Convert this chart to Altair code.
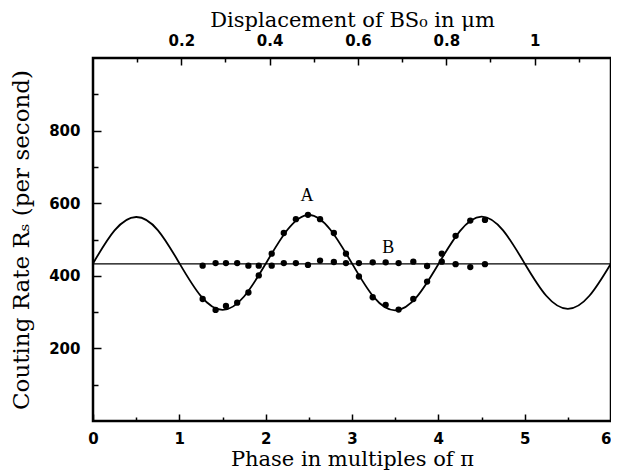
import altair as alt
import pandas as pd

# fitted curve (read at quarter-phase steps)
curve_x = [0, 0.25, 0.5, 0.75, 1, 1.25, 1.5, 1.75, 2, 2.25, 2.5, 2.75, 3,
           3.25, 3.5, 3.75, 4, 4.25, 4.5, 4.75, 5, 5.25, 5.5, 5.75, 6]
curve_y = [434, 525, 562, 526, 435, 344, 306, 343, 433, 526, 568, 527, 434,
           342, 305, 342, 432, 523, 563, 525, 434, 345, 309, 345, 434]

# measured points
pts_x = [1.27, 1.42, 1.54, 1.67, 1.80, 1.92, 2.07, 2.21, 2.35, 2.49, 2.63, 2.79,
         2.93, 3.08, 3.24, 3.39, 3.54, 3.71, 3.87, 4.04, 4.20, 4.37, 4.54]
a_y = [336, 306, 317, 326, 354, 401, 461, 518, 556, 568, 556, 518,
       461, 398, 341, 320, 307, 336, 384, 461, 510, 552, 554]
b_y = [428, 435, 435, 435, 428, 428, 428, 435, 435, 430, 442, 438,
       435, 435, 437, 437, 435, 439, 427, 439, 432, 424, 432]
b_level = [433]

labels = ["A", "B"]
label_x = [2.48, 3.42]
label_y = [619, 476]

# axes
phase_major = [0, 1, 2, 3, 4, 5, 6]
phase_minor = [0.5, 1.5, 2.5, 3.5, 4.5, 5.5]
rate_major = [200, 400, 600, 800]
rate_minor = [100, 300, 500, 700, 900]
disp_major = [0.2, 0.4, 0.6, 0.8, 1.0]
disp_minor = [0.1, 0.3, 0.5, 0.7, 0.9, 1.1]
disp_per_phase = 0.1955

X_DOM = [0, 6]
Y_DOM = [0, 1000]
D_DOM = [0, 6 * disp_per_phase]

LABEL_FONT = "DejaVu Sans"
TITLE_FONT = "DejaVu Serif"

curve_df = pd.DataFrame({"x": curve_x, "y": curve_y})
a_df = pd.DataFrame({"x": pts_x, "y": a_y})
b_df = pd.DataFrame({"x": pts_x, "y": b_y})
bl_df = pd.DataFrame({"y": b_level})
lab_df = pd.DataFrame({"t": labels, "x": label_x, "y": label_y})

xs = alt.Scale(domain=X_DOM, nice=False, zero=False)
ys = alt.Scale(domain=Y_DOM, nice=False, zero=False)
ds = alt.Scale(domain=D_DOM, nice=False, zero=False)

common_label = dict(labelFont=LABEL_FONT, labelFontWeight="bold", labelFontSize=15,
                    labelColor="black", tickColor="black", tickWidth=1.5,
                    domain=False, grid=False, labelFlush=False)
common_title = dict(titleFont=TITLE_FONT, titleFontWeight="normal",
                    titleColor="black")

curve = alt.Chart(curve_df).mark_line(color="black", strokeWidth=1.8,
                                      interpolate="natural").encode(
    x=alt.X("x:Q", scale=xs, axis=alt.Axis(
        orient="bottom", values=phase_major, format="d", tickSize=7, offset=-7,
        labelPadding=10, title="Phase in multiples of π", titlePadding=2,
        titleFontSize=21,
        labelAlign={"condition": {"test": "datum.value == 6", "value": "right"},
                    "value": "center"},
        **common_label, **common_title)),
    y=alt.Y("y:Q", scale=ys, axis=alt.Axis(
        orient="left", values=rate_major, format="d", tickSize=8, offset=-8,
        labelPadding=13, title="Couting Rate Rₛ (per second)", titlePadding=15,
        titleFontSize=23,
        **common_label, **common_title)),
)

minor_bottom = alt.Chart(pd.DataFrame({"x": phase_minor})).mark_point(opacity=0).encode(
    x=alt.X("x:Q", scale=xs, axis=alt.Axis(
        orient="bottom", values=phase_minor, tickSize=4, offset=-4, labels=False,
        title=None, tickColor="black", tickWidth=1.5, domain=False, grid=False)),
)

minor_left = alt.Chart(pd.DataFrame({"y": rate_minor})).mark_point(opacity=0).encode(
    y=alt.Y("y:Q", scale=ys, axis=alt.Axis(
        orient="left", values=rate_minor, tickSize=5, offset=-5, labels=False,
        title=None, tickColor="black", tickWidth=1.5, domain=False, grid=False)),
)

top_major = alt.Chart(pd.DataFrame({"d": disp_major})).mark_point(opacity=0).encode(
    x=alt.X("d:Q", scale=ds, axis=alt.Axis(
        orient="top", values=disp_major, format=".1~f", tickSize=7, offset=-7,
        labelPadding=10, title="Displacement of BS₀ in μm", titlePadding=3,
        titleFontSize=21,
        **common_label, **common_title)),
)

top_minor = alt.Chart(pd.DataFrame({"d": disp_minor})).mark_point(opacity=0).encode(
    x=alt.X("d:Q", scale=ds, axis=alt.Axis(
        orient="top", values=disp_minor, tickSize=4, offset=-4, labels=False,
        title=None, tickColor="black", tickWidth=1.5, domain=False, grid=False)),
)

b_line = alt.Chart(bl_df).mark_rule(color="black", strokeWidth=1.3).encode(
    y=alt.Y("y:Q", scale=ys, axis=None),
)

a_pts = alt.Chart(a_df).mark_circle(color="black", size=40, opacity=1).encode(
    x=alt.X("x:Q", scale=xs, axis=None),
    y=alt.Y("y:Q", scale=ys, axis=None),
)

b_pts = alt.Chart(b_df).mark_circle(color="black", size=40, opacity=1).encode(
    x=alt.X("x:Q", scale=xs, axis=None),
    y=alt.Y("y:Q", scale=ys, axis=None),
)

texts = alt.Chart(lab_df).mark_text(font="Liberation Serif", fontSize=18,
                                    color="black").encode(
    x=alt.X("x:Q", scale=xs, axis=None),
    y=alt.Y("y:Q", scale=ys, axis=None),
    text="t:N",
)

chart = alt.layer(
    curve, minor_bottom, minor_left, top_major, top_minor,
    b_line, a_pts, b_pts, texts
).resolve_scale(x="independent", y="independent").resolve_axis(
    x="independent", y="independent"
).properties(
    width=518, height=363,
    padding={"left": 85, "top": 50, "right": 0, "bottom": 50},
    autosize=alt.AutoSizeParams(type="none"),
    background="white",
).configure_view(stroke="black", strokeWidth=2.5)

chart.save("out.html", embed_options={"renderer": "svg", "actions": False})
